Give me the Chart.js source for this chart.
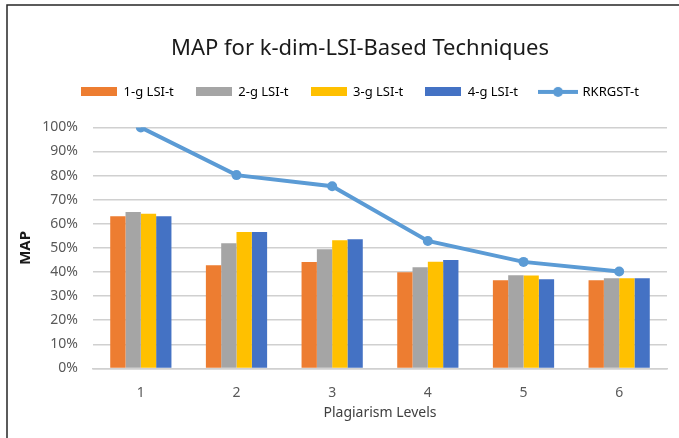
<!DOCTYPE html>
<html>
<head>
<meta charset="utf-8">
<script src="https://cdn.jsdelivr.net/npm/chart.js@4"></script>
<style>
  html, body { margin: 0; padding: 0; background: #fff; }
  #wrap { width: 679px; height: 438px; position: relative; }
</style>
</head>
<body>
<div id="wrap"><canvas id="myChart" width="679" height="438"></canvas></div>
<script>
const levels = ["1", "2", "3", "4", "5", "6"];
const oneGram = [0.631, 0.428, 0.441, 0.399, 0.366, 0.366];
const twoGram = [0.649, 0.519, 0.494, 0.420, 0.387, 0.374];
const threeGram = [0.642, 0.566, 0.532, 0.443, 0.385, 0.374];
const fourGram = [0.631, 0.566, 0.536, 0.450, 0.370, 0.374];
const rkrgst = [1.0, 0.802, 0.756, 0.529, 0.442, 0.402];
const yTicks = [0, 0.1, 0.2, 0.3, 0.4, 0.5, 0.6, 0.7, 0.8, 0.9, 1.0];

const fontFamily = "'Noto Sans', 'Open Sans', sans-serif";
const tickColor = "#595959";
const legendGap = 19;

// little pictures for the legend, Excel style
const boxImage = (color) => {
  const c = document.createElement("canvas");
  c.width = 36;
  c.height = 9;
  const ctx = c.getContext("2d");
  ctx.fillStyle = color;
  ctx.fillRect(0, 0, 36, 9);
  return c;
};

const lineImage = (color) => {
  const c = document.createElement("canvas");
  c.width = 40;
  c.height = 12;
  const ctx = c.getContext("2d");
  ctx.strokeStyle = color;
  ctx.lineWidth = 4;
  ctx.beginPath();
  ctx.moveTo(0, 6);
  ctx.lineTo(40, 6);
  ctx.stroke();
  ctx.fillStyle = color;
  ctx.beginPath();
  ctx.arc(20, 6, 5, 0, Math.PI * 2);
  ctx.fill();
  return c;
};

const frame = {
  id: "frame",
  beforeInit: (chart) => {
    // extra room between legend and plot
    const fit = chart.legend.fit;
    chart.legend.fit = function () {
      fit.call(this);
      this.height += legendGap;
    };
  },
  beforeDraw: (chart) => {
    const ctx = chart.ctx;
    ctx.save();
    ctx.fillStyle = "#fff";
    ctx.fillRect(0, 0, chart.width, chart.height);
    ctx.strokeStyle = "#262626";
    ctx.lineWidth = 1.5;
    ctx.beginPath();
    ctx.moveTo(7, chart.height);
    ctx.lineTo(7, 5);
    ctx.lineTo(chart.width, 5);
    ctx.stroke();
    ctx.restore();
  }
};

const barSet = (label, data, color) => ({
  type: "bar",
  label: label,
  data: data,
  backgroundColor: color,
  borderWidth: 0,
  barPercentage: 1,
  categoryPercentage: 0.64,
  order: 1,
  legendImage: boxImage(color)
});

const data = {
  labels: levels,
  datasets: [
    barSet("1-g LSI-t", oneGram, "#ed7d31"),
    barSet("2-g LSI-t", twoGram, "#a5a5a5"),
    barSet("3-g LSI-t", threeGram, "#ffc000"),
    barSet("4-g LSI-t", fourGram, "#4472c4"),
    {
      type: "line",
      label: "RKRGST-t",
      data: rkrgst,
      borderColor: "#5b9bd5",
      backgroundColor: "#5b9bd5",
      borderWidth: 4,
      pointRadius: 5,
      pointBackgroundColor: "#5b9bd5",
      pointBorderWidth: 0,
      tension: 0,
      order: 0,
      legendImage: lineImage("#5b9bd5")
    }
  ]
};

new Chart(document.getElementById("myChart"), {
  type: "bar",
  data: data,
  plugins: [frame],
  options: {
    responsive: false,
    animation: false,
    layout: {
      padding: { left: 53, right: 12, top: 36, bottom: 17 }
    },
    scales: {
      x: {
        grid: { display: false },
        border: { color: "#d0d0d0", width: 1.5 },
        ticks: {
          color: tickColor,
          padding: 8,
          font: { family: fontFamily, size: 14 }
        },
        title: {
          display: true,
          text: "Plagiarism Levels",
          color: "#404040",
          padding: { top: -5, bottom: 0 },
          font: { family: fontFamily, size: 14 }
        }
      },
      y: {
        min: 0,
        max: 1,
        afterFit: (scale) => {
          scale.width = 40;
          // labels hang out past the narrowed axis box, so don't clip them
          scale._computeLabelArea = () => undefined;
        },
        afterBuildTicks: (scale) => {
          scale.ticks = yTicks.map((v) => ({ value: v }));
        },
        grid: {
          color: "#d0d0d0",
          lineWidth: 1.5,
          drawTicks: false
        },
        border: { display: false },
        ticks: {
          color: tickColor,
          padding: 15,
          font: { family: fontFamily, size: 14 },
          callback: (value) => Math.round(value * 100) + "%"
        },
        title: {
          display: true,
          text: "MAP",
          color: "#1a1a1a",
          padding: { top: -36, bottom: 0 },
          font: { family: fontFamily, size: 15, weight: "bold" }
        }
      }
    },
    plugins: {
      title: {
        display: true,
        text: "MAP for k-dim-LSI-Based Techniques",
        color: "#1a1a1a",
        padding: { top: 0, bottom: 1 },
        font: { family: fontFamily, size: 22, weight: "normal" }
      },
      legend: {
        display: true,
        position: "top",
        labels: {
          usePointStyle: true,
          pointStyleWidth: 36,
          padding: 22,
          color: tickColor,
          font: { family: fontFamily, size: 13 },
          generateLabels: (chart) => chart.data.datasets.map((ds, i) => ({
            text: ds.label,
            pointStyle: ds.legendImage,
            fillStyle: ds.backgroundColor,
            strokeStyle: ds.backgroundColor,
            lineWidth: 0,
            hidden: false,
            datasetIndex: i
          }))
        }
      },
      tooltip: { enabled: false }
    }
  }
});
</script>
</body>
</html>
